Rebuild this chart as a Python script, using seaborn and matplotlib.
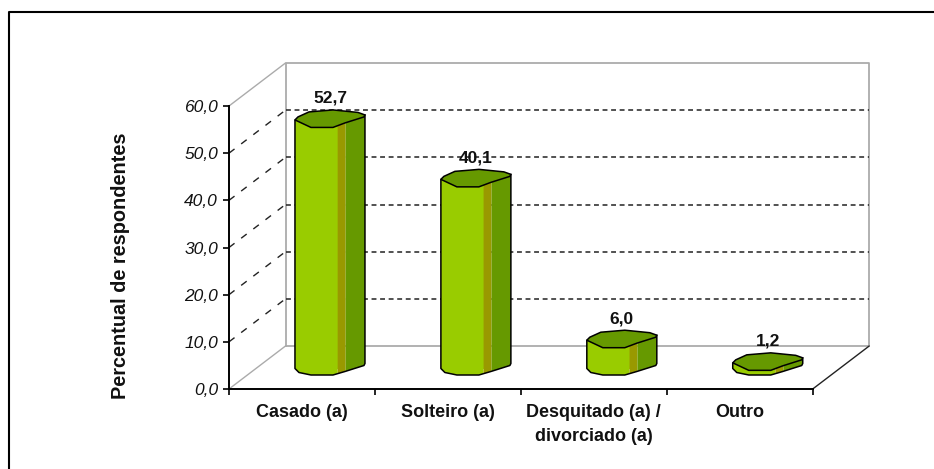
import numpy as np
import matplotlib
matplotlib.use("Agg")
import matplotlib.pyplot as plt
from matplotlib.lines import Line2D
from matplotlib.patches import Polygon
import seaborn as sns

categories = ["Casado (a)", "Solteiro (a)", "Desquitado (a) /\ndivorciado (a)", "Outro"]
values = [52.7, 40.1, 6.0, 1.2]
value_labels = ["52,7", "40,1", "6,0", "1,2"]
y_ticks = [0, 10, 20, 30, 40, 50, 60]
y_tick_labels = ["0,0", "10,0", "20,0", "30,0", "40,0", "50,0", "60,0"]

LIGHT = "#99CC00"
BROWN = "#999900"
DARK = "#669900"
WALL = "#ABABAB"
INK = "#111111"

sns.set_style("white")
plt.rcParams["font.family"] = ["Liberation Sans", "DejaVu Sans"]

W, H = 934, 469
fig = plt.figure(figsize=(W / 100, H / 100), dpi=100)
ax = fig.add_axes([229 / W, 1 - 389 / H, 583.7 / W, 283 / H])

# pixels per data unit, the fake 3d is laid out in pixels
ux = 583.7 / 4
uy = 283 / 60
depth_x = 56.5 / ux
depth_y = 43 / uy

# front faces of the bars
face_w = 42.7
sns.barplot(x=categories, y=values, color=LIGHT, saturation=1, width=face_w / ux,
            linewidth=0, ax=ax, zorder=3)

left_off = -7 / ux
base_off = 20.5 / uy

# outline of the front of the footprint, pixels from the left corner (y up)
front_x = np.array([0, 4, 16, 38, 50, 69, 70])
front_y = np.array([0, -4, -6.5, -6.5, -3, 3, 5])
cap_x = np.array([0, 16, 38, 50, 69, 70, 63, 38, 14, 3])
cap_y = np.array([0, -7.5, -7.5, -3, 3, 5, 7.5, 10, 8, 3])


def strip(i, a, b, top):
    # part of the front curve between a and b, at the height top
    xs = np.r_[a, front_x[(front_x > a) & (front_x < b)], b]
    ys = np.interp(xs, front_x, front_y)
    return i + left_off + xs / ux, top + base_off + ys / uy


for i, (bar, v) in enumerate(zip(ax.patches, values)):
    bar.set_x(i + left_off)
    bar.set_y(base_off)
    # rounded lower edge of the front face, closed up into the rectangle
    x0, y0 = strip(i, 0, face_w, 0)
    x0 = np.r_[x0, x0[-1], x0[0]]
    y0 = np.r_[y0, base_off + 1 / uy, base_off + 1 / uy]
    ax.add_patch(Polygon(np.c_[x0, y0], fc=LIGHT, ec="none", zorder=3, clip_on=False))
    for a, b, c in [(face_w, 50.7, BROWN), (50.7, 70, DARK)]:
        xb, yb = strip(i, a, b, 0)
        xt, yt = strip(i, a, b, v)
        pts = np.r_[np.c_[xb, yb], np.c_[xt, yt][::-1]]
        ax.add_patch(Polygon(pts, fc=c, ec="none", zorder=3, clip_on=False))
    # black outline of the body
    xb, yb = strip(i, 0, 70, 0)
    ox = np.r_[i + left_off, xb, i + left_off + 70 / ux]
    oy = np.r_[base_off + v, yb, base_off + v + 5 / uy]
    ax.plot(ox, oy, color="black", lw=1.1, zorder=4, clip_on=False)
    # top cap
    cx = i + left_off + cap_x / ux
    cy = base_off + v + cap_y / uy
    ax.add_patch(Polygon(np.c_[cx, cy], fc=DARK, ec="black", lw=1.1, zorder=5, clip_on=False))
    ax.text(i + 28 / ux, v + depth_y - 0.2, value_labels[i], ha="center", va="center",
            fontsize=12.5, fontweight="bold", color=INK, zorder=6)

# walls
xl, xr = -0.5, 3.5
ax.plot([xl + depth_x, xl + depth_x, xr + depth_x, xr + depth_x, xl + depth_x],
        [depth_y, 60 + depth_y, 60 + depth_y, depth_y, depth_y],
        color=WALL, lw=1.3, zorder=1, clip_on=False)
ax.plot([xl, xl + depth_x], [60, 60 + depth_y], color=WALL, lw=1, zorder=1, clip_on=False)
ax.plot([xl, xl + depth_x], [0, depth_y], color=WALL, lw=1, zorder=1, clip_on=False)
ax.plot([xr, xr + depth_x], [0, depth_y], color="#222222", lw=1, zorder=1, clip_on=False)

# gridlines on the back wall and the side wall
for t in y_ticks[1:-1]:
    ax.plot([xl + depth_x, xr + depth_x], [t + depth_y, t + depth_y], color="#222222",
            lw=1.1, ls=(0, (3.2, 2.4)), zorder=2, clip_on=False)
    ax.plot([xl, xl + depth_x], [t, t + depth_y], color="#222222",
            lw=1, ls=(0, (5, 6)), zorder=2, clip_on=False)

ax.set_xlim(xl, xr)
ax.set_ylim(0, 60)
ax.set_yticks(y_ticks, y_tick_labels, fontsize=12.5, fontstyle="italic", color=INK)
ax.set_xticks([-0.5, 0.5, 1.5, 2.5, 3.5], [""] * 5)
ax.set_xticks(range(4), categories, minor=True, fontsize=13, fontweight="bold",
              color=INK, linespacing=1.5)
ax.tick_params(axis="y", length=4.5, width=1.2, color="black", pad=3.5, left=True)
ax.tick_params(axis="x", which="major", length=4, width=1.2, color="black", bottom=True)
ax.tick_params(axis="x", which="minor", length=0, pad=11)
ax.set_xlabel("")
ax.set_ylabel("Percentual de respondentes", fontsize=14.3, fontweight="bold", color=INK, va="center")
ax.yaxis.set_label_coords((121 - 229) / 583.7, (389 - 266) / 283)

sns.despine(ax=ax)
for side in ["left", "bottom"]:
    ax.spines[side].set_color("black")
    ax.spines[side].set_linewidth(1.4)
    ax.spines[side].set_zorder(7)
ax.patch.set_alpha(0)

# frame of the original page, only top and left are visible
fig.add_artist(Line2D([8.8 / W, 8.8 / W, 1], [0, 1 - 12 / H, 1 - 12 / H], color="black", lw=1.5))

fig.savefig("out.png", dpi=100)
